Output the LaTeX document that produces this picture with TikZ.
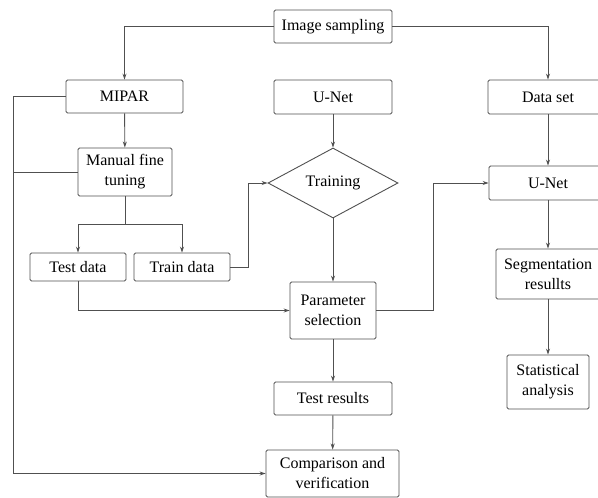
\documentclass[tikz,border=0pt]{standalone}
\usepackage{fontspec}
\setmainfont{Liberation Serif}
\newfontfamily\tnr{Liberation Serif}
\usetikzlibrary{shapes.geometric,arrows.meta}
\definecolor{lc}{HTML}{505050}
\begin{document}
\begin{tikzpicture}[x=1pt,y=-1pt,
  box/.style={draw=lc,line width=0.9pt,rounded corners=1.5pt,inner sep=0pt,align=center,
    font=\tnr\fontsize{16}{20}\selectfont},
  dia/.style={draw=lc,line width=0.9pt,shape=diamond,inner sep=0pt,
    font=\tnr\fontsize{16}{20}\selectfont},
  ln/.style={draw=lc,line width=0.9pt},
  arr/.style={ln,-{Stealth[length=6pt,width=4pt]}}]
\useasboundingbox (0,0) rectangle (598,498);
\node[box,minimum width=118pt,minimum height=33pt] (samp) at (333,26.5) {Image sampling};
\node[box,minimum width=117pt,minimum height=33pt] (mipar) at (124.5,96.5) {MIPAR};
\node[box,minimum width=118pt,minimum height=34pt] (unet1) at (333,97) {U-Net};
\node[box,minimum width=120pt,minimum height=34pt] (data) at (548,97) {Data set};
\node[box,minimum width=94pt,minimum height=48pt] (manual) at (125,172) {Manual fine\\tuning};
\node[dia,minimum width=130pt,minimum height=70pt] (train) at (333,183) {Training};
\node[box,minimum width=118pt,minimum height=34pt] (unet2) at (548,183) {U-Net};
\node[box,minimum width=96pt,minimum height=28pt] (test) at (78,267) {Test data};
\node[box,minimum width=96pt,minimum height=28pt] (traind) at (182,267) {Train data};
\node[box,minimum width=104pt,minimum height=50pt] (seg) at (548,274) {Segmentation\\resullts};
\node[box,minimum width=86pt,minimum height=57pt] (param) at (333,310.5) {Parameter\\selection};
\node[box,minimum width=82pt,minimum height=54pt] (stat) at (548,382) {Statistical\\analysis};
\node[box,minimum width=118pt,minimum height=33pt] (tres) at (333,398.5) {Test results};
\node[box,minimum width=133pt,minimum height=47pt] (comp) at (332.5,473.5) {Comparison and\\verification};
\coordinate (split) at (125,224);
\coordinate (leftx) at (13,0);
% connectors
\draw[arr] (samp.west) -| (mipar.north);
\draw[arr] (samp.east) -| (data.north);
\draw[arr] (mipar) -- (manual);
\draw[ln] (manual.south) -- (split);
\draw[ln] (test.north |- split) -- (traind.north |- split);
\draw[arr] (test.north |- split) -- (test.north);
\draw[arr] (traind.north |- split) -- (traind.north);
\draw[arr] (traind.east) -- ++(18,0) |- (train.west);
\draw[arr] (unet1) -- (train.north);
\draw[arr] (train.south) -- (param.north);
\draw[arr] (test.south) |- (param.west);
\draw[arr] (param.east) -- ++(57,0) |- (unet2.west);
\draw[arr] (data) -- (unet2);
\draw[arr] (unet2) -- (seg);
\draw[arr] (seg) -- (stat);
\draw[arr] (param) -- (tres);
\draw[arr] (tres) -- (comp);
\draw[arr] (mipar.west) -- (leftx |- mipar.west) |- (comp.west);
\draw[ln] (manual.west) -- (leftx |- manual.west);
\end{tikzpicture}
\end{document}
